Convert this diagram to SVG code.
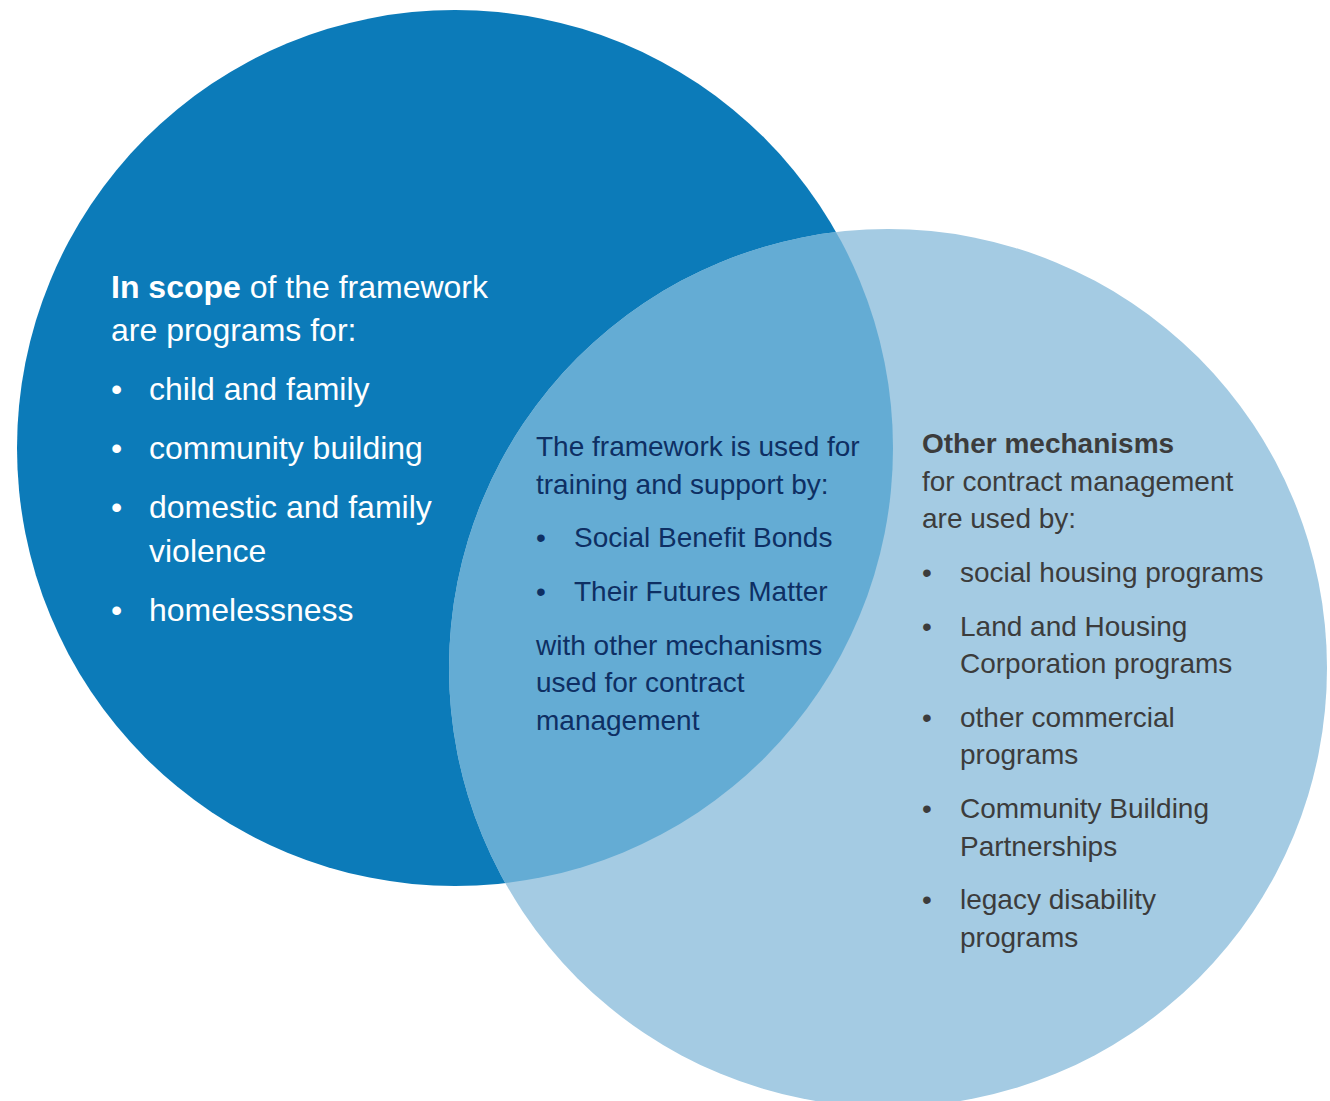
<svg xmlns="http://www.w3.org/2000/svg" width="1330" height="1101" viewBox="0 0 1330 1101">
<style>
text { font-family: "Liberation Sans", Arial, sans-serif; }
.l { fill: #ffffff; font-size: 32px; }
.m { fill: #0e2f63; font-size: 28px; }
.r { fill: #3c3c3c; font-size: 28px; }
.b { font-weight: bold; }
</style>
<defs>
<clipPath id="clipLeft"><circle cx="455" cy="448" r="438"/></clipPath>
</defs>
<rect width="1330" height="1101" fill="#ffffff"/>
<g id="circle-left"><circle cx="455" cy="448" r="438" fill="#0c7bb9"/></g>
<g id="circle-right"><circle cx="888" cy="668" r="439" fill="#a4cbe3"/></g>
<g id="overlap"><circle cx="888" cy="668" r="439" fill="#64acd4" clip-path="url(#clipLeft)"/></g>
<g id="connectors"/>
<g id="text-left" class="l">
<text x="111" y="298" class="l"><tspan class="b">In scope</tspan> of the framework</text>
<text x="111" y="341" class="l">are programs for:</text>
<text x="111" y="400" class="l">•</text><text x="149" y="400" class="l">child and family</text>
<text x="111" y="459" class="l">•</text><text x="149" y="459" class="l">community building</text>
<text x="111" y="518" class="l">•</text><text x="149" y="518" class="l">domestic and family</text>
<text x="149" y="562" class="l">violence</text>
<text x="111" y="621" class="l">•</text><text x="149" y="621" class="l">homelessness</text>
</g>
<g id="text-middle">
<text x="536" y="456" class="m">The framework is used for</text>
<text x="536" y="494" class="m">training and support by:</text>
<text x="536" y="547" class="m">•</text><text x="574" y="547" class="m">Social Benefit Bonds</text>
<text x="536" y="601" class="m">•</text><text x="574" y="601" class="m">Their Futures Matter</text>
<text x="536" y="655" class="m">with other mechanisms</text>
<text x="536" y="692" class="m">used for contract</text>
<text x="536" y="730" class="m">management</text>
</g>
<g id="text-right">
<text x="922" y="453" class="r b">Other mechanisms</text>
<text x="922" y="491" class="r">for contract management</text>
<text x="922" y="528" class="r">are used by:</text>
<text x="922" y="582" class="r">•</text><text x="960" y="582" class="r">social housing programs</text>
<text x="922" y="636" class="r">•</text><text x="960" y="636" class="r">Land and Housing</text>
<text x="960" y="673" class="r">Corporation programs</text>
<text x="922" y="727" class="r">•</text><text x="960" y="727" class="r">other commercial</text>
<text x="960" y="764" class="r">programs</text>
<text x="922" y="818" class="r">•</text><text x="960" y="818" class="r">Community Building</text>
<text x="960" y="856" class="r">Partnerships</text>
<text x="922" y="909" class="r">•</text><text x="960" y="909" class="r">legacy disability</text>
<text x="960" y="947" class="r">programs</text>
</g>
</svg>
